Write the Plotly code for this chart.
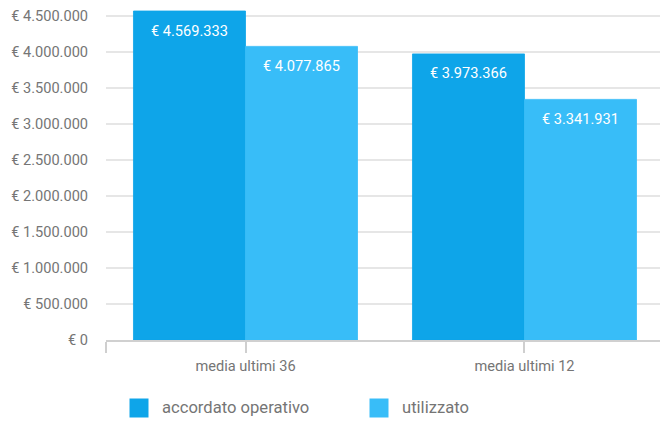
import plotly.graph_objects as go

# Categories and series
categories = ["media ultimi 36", "media ultimi 12"]
series_names = ["accordato operativo", "utilizzato"]
accordato = [4569333, 3973366]
utilizzato = [4077865, 3341931]
series_values = [accordato, utilizzato]
series_colors = ["#0EA5E9", "#38BDF8"]
y_ticks = [0, 500000, 1000000, 1500000, 2000000, 2500000, 3000000, 3500000, 4000000, 4500000]

FONT = "Roboto, Arial, sans-serif"
GREY = "#757575"
BARGAP = 0.197


def euro(v):
    return "€ " + f"{v:,.0f}".replace(",", ".")


x_pos = list(range(len(categories)))

fig = go.Figure()
for name, vals, color in zip(series_names, series_values, series_colors):
    fig.add_trace(go.Bar(
        x=x_pos, y=vals, name=name,
        # thin outline in the fill colour closes antialiasing seams between bars
        marker=dict(color=color, line=dict(width=0.8, color=color)),
        showlegend=False, hoverinfo="skip",
    ))

# Value labels near the top of each bar
n = len(series_names)
bar_w = (1 - BARGAP) / n
annotations = []
for i, vals in enumerate(series_values):
    for j, v in enumerate(vals):
        xc = x_pos[j] - (1 - BARGAP) / 2 + bar_w * (i + 0.5)
        annotations.append(dict(
            x=xc, y=v, xref="x", yref="y", text=euro(v), showarrow=False,
            yanchor="middle", yshift=-19.5,
            font=dict(family=FONT, size=14.6, color="white"),
        ))

# Legend drawn below the plot: square key + label per series
shapes = []
plot_l, plot_r, plot_t, plot_b = 106, 660, 5, 340
pw, ph = plot_r - plot_l, plot_b - plot_t
key_x = [129.5, 369.5]
for k, (name, color) in enumerate(zip(series_names, series_colors)):
    x0 = key_x[k]
    shapes.append(dict(
        type="rect", xref="paper", yref="paper",
        x0=(x0 - plot_l) / pw, x1=(x0 + 19 - plot_l) / pw,
        y0=(plot_b - 398.5) / ph, y1=(plot_b - 417.5) / ph,
        fillcolor=color, line=dict(width=0),
    ))
    annotations.append(dict(
        x=(x0 + 30 - plot_l) / pw, y=(plot_b - 408) / ph, xref="paper", yref="paper",
        xanchor="left", yanchor="middle", text=name, showarrow=False,
        font=dict(family=FONT, size=16.6, color=GREY),
    ))

fig.update_layout(
    width=660, height=421,
    margin=dict(l=106, r=0, t=5, b=81),
    paper_bgcolor="white", plot_bgcolor="white",
    barmode="group", bargap=BARGAP, bargroupgap=0,
    separators=",.",
    font=dict(family=FONT, size=14.5, color=GREY),
    annotations=annotations, shapes=shapes,
    xaxis=dict(
        range=[-0.5, 1.4857],
        tickmode="array",
        tickvals=[-0.5] + x_pos,
        ticktext=[""] + categories,
        ticks="outside", ticklen=11, tickwidth=1.5, tickcolor="#cfcfcf",
        showline=True, linecolor="#d0d0d0", linewidth=2,
        showgrid=False, zeroline=False,
        tickfont=dict(family=FONT, size=14.6, color=GREY),
    ),
    yaxis=dict(
        range=[0, 335 / 72 * 1e6],
        tickmode="array", tickvals=y_ticks,
        ticktext=[euro(v) for v in y_ticks],
        ticks="outside", ticklen=14, tickcolor="rgba(0,0,0,0)",
        showgrid=True, gridcolor="#e6e6e6", gridwidth=2,
        zeroline=False, showline=False,
        tickfont=dict(family=FONT, size=14.6, color=GREY),
    ),
)

fig.write_html("out.html")
